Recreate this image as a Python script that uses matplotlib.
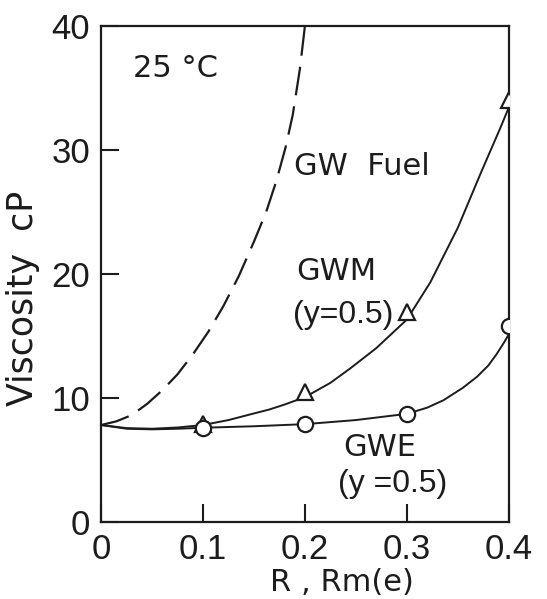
import matplotlib
matplotlib.use("Agg")
import matplotlib.pyplot as plt
from matplotlib import font_manager as fm

# data
gw_fuel_x = [0.0, 0.015, 0.03, 0.045, 0.06, 0.075, 0.09, 0.105, 0.12, 0.135, 0.15, 0.162, 0.172, 0.181, 0.188, 0.195, 0.2]
gw_fuel_y = [7.8, 8.1, 8.6, 9.5, 10.6, 11.9, 13.5, 15.3, 17.4, 19.8, 22.6, 25.0, 27.5, 30.2, 32.8, 36.5, 40.0]

gwm_line_x = [0.0, 0.025, 0.05, 0.075, 0.1, 0.125, 0.146, 0.165, 0.18, 0.2, 0.225, 0.245, 0.27, 0.3, 0.323, 0.35, 0.373, 0.392, 0.4]
gwm_line_y = [7.8, 7.55, 7.5, 7.6, 7.8, 8.2, 8.65, 9.05, 9.45, 10.05, 11.2, 12.4, 14.0, 16.3, 19.3, 23.7, 28.2, 31.8, 33.4]
gwm_pts_x = [0.1, 0.2, 0.3, 0.4]
gwm_pts_y = [7.85, 10.5, 16.9, 34.0]

gwe_line_x = [0.0, 0.025, 0.05, 0.075, 0.1, 0.15, 0.2, 0.25, 0.3, 0.32, 0.336, 0.355, 0.369, 0.38, 0.388, 0.395, 0.4]
gwe_line_y = [7.8, 7.5, 7.45, 7.5, 7.58, 7.7, 7.87, 8.2, 8.7, 9.2, 9.8, 10.8, 11.7, 12.6, 13.5, 14.4, 15.1]
gwe_pts_x = [0.1, 0.2, 0.3, 0.4]
gwe_pts_y = [7.55, 7.87, 8.7, 15.75]

x_ticks = [0, 0.1, 0.2, 0.3, 0.4]
x_labels = ["0", "0.1", "0.2", "0.3", "0.4"]
y_ticks = [0, 10, 20, 30, 40]


def pick(names):
    for n in names:
        try:
            fm.findfont(fm.FontProperties(family=n), fallback_to_default=False)
            return n
        except ValueError:
            pass
    return "DejaVu Sans"


ink = "#1c1c1c"
plt.rcParams["font.family"] = ["DejaVu Sans"]
narrow = pick(["Liberation Sans Narrow", "DejaVu Sans Condensed", "Liberation Sans"])

fig = plt.figure(figsize=(5.47, 5.99), dpi=100)
ax = fig.add_axes([0.185, 0.129, 0.745, 0.828])

ax.plot(gw_fuel_x, gw_fuel_y, color=ink, lw=1.6, linestyle=(0, (13, 5)))
ax.plot(gwm_line_x, gwm_line_y, color=ink, lw=1.4)
ax.plot(gwe_line_x, gwe_line_y, color=ink, lw=1.4)
ax.plot(gwm_pts_x, gwm_pts_y, linestyle="none", marker="^", ms=12, mfc="white", mec=ink, mew=1.6, zorder=3)
ax.plot(gwe_pts_x, gwe_pts_y, linestyle="none", marker="o", ms=11, mfc="white", mec=ink, mew=1.6, zorder=4)

ax.set_xlim(0, 0.4)
ax.set_ylim(0, 40)
ax.set_xticks(x_ticks)
ax.set_xticklabels(x_labels)
ax.set_yticks(y_ticks)
ax.tick_params(direction="in", length=13, width=1.5, colors=ink, labelsize=25, pad=8)
for lab in ax.get_xticklabels() + ax.get_yticklabels():
    lab.set_family(narrow)
for sp in ax.spines.values():
    sp.set_linewidth(1.6)
    sp.set_color(ink)

ax.set_ylabel("Viscosity  cP", fontsize=25, color=ink)
ax.yaxis.set_label_coords(-0.15, 0.45)
fig.text(0.625, 1 - 591 / 599, "R , Rm(e)", fontsize=22, color=ink, ha="center", va="baseline")

txt = dict(fontsize=22, color=ink, ha="left", va="baseline")
ax.text(0.031, 35.9, "25 °C", **txt)
ax.text(0.189, 28.0, "GW  Fuel", **txt)
ax.text(0.191, 19.5, "GWM", **txt)
ax.text(0.188, 16.0, "(y=0.5)", fontsize=23, color=ink, ha="left", va="baseline", family=narrow)
ax.text(0.238, 5.3, "GWE", **txt)
ax.text(0.232, 2.4, "(y =0.5)", fontsize=23, color=ink, ha="left", va="baseline", family=narrow)

fig.savefig("out.png", dpi=100)
